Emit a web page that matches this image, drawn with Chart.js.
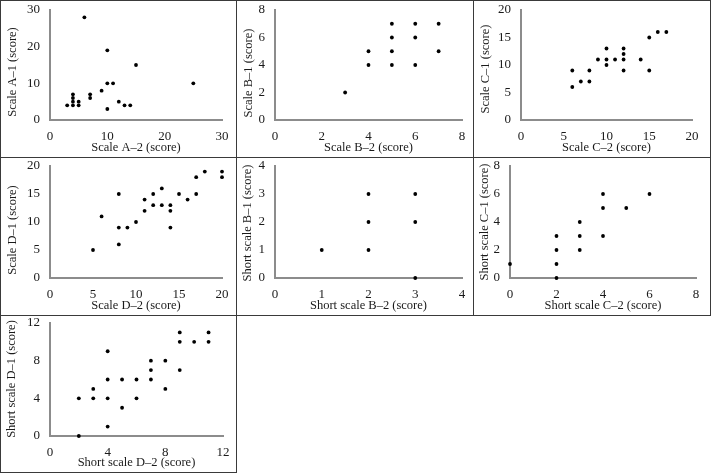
<!DOCTYPE html>
<html>
<head>
<meta charset="utf-8">
<script src="https://cdn.jsdelivr.net/npm/chart.js@4/dist/chart.umd.min.js"></script>
<style>
  html, body { margin: 0; padding: 0; background: #fff; }
  #wrap { position: relative; width: 711px; height: 474px; }
  .panel { position: absolute; box-sizing: border-box; border: 1px solid #3a3a3a; }
  .panel canvas { position: absolute; left: 0; top: 0; }
</style>
</head>
<body>
<div id="wrap"></div>
<script>
// ---- data ----
const aX = [6, 10, 15, 10, 11, 25, 9, 3, 4, 4, 4, 4, 5, 5, 7, 7, 12, 10, 13, 14];
const aY = [28, 19, 15, 10, 10, 10, 8, 4, 4, 5, 6, 7, 4, 5, 6, 7, 5, 3, 4, 4];

const bX = [3, 4, 4, 5, 5, 5, 5, 6, 6, 6, 7, 7];
const bY = [2, 5, 4, 7, 6, 5, 4, 7, 6, 4, 7, 5];

const cX = [6, 6, 7, 8, 8, 9, 10, 10, 10, 11, 12, 12, 12, 12, 14, 15, 15, 16, 17];
const cY = [9, 6, 7, 9, 7, 11, 13, 11, 10, 11, 13, 12, 11, 9, 11, 15, 9, 16, 16];

const dX = [5, 6, 8, 8, 8, 9, 10, 11, 11, 12, 12, 13, 13, 14, 14, 14, 15, 16, 17, 17, 18, 20, 20];
const dY = [5, 11, 15, 9, 6, 9, 10, 14, 12, 15, 13, 16, 13, 13, 12, 9, 15, 14, 18, 15, 19, 19, 18];

const eX = [1, 2, 2, 2, 3, 3, 3];
const eY = [1, 3, 2, 1, 3, 2, 0];

const fX = [0, 2, 2, 2, 2, 3, 3, 3, 4, 4, 4, 5, 6];
const fY = [1, 3, 2, 1, 0, 4, 3, 2, 6, 5, 3, 5, 6];

const gX = [2, 2, 3, 3, 4, 4, 4, 4, 5, 5, 6, 6, 7, 7, 7, 8, 8, 9, 9, 9, 10, 11, 11];
const gY = [4, 0, 5, 4, 9, 6, 4, 1, 6, 3, 6, 4, 8, 7, 6, 8, 5, 11, 10, 7, 10, 11, 10];

const xTitles = ["Scale A\u20132 (score)", "Scale B\u20132 (score)", "Scale C\u20132 (score)",
                 "Scale D\u20132 (score)", "Short scale B\u20132 (score)", "Short scale C\u20132 (score)",
                 "Short scale D\u20132 (score)"];
const yTitles = ["Scale A\u20131 (score)", "Scale B\u20131 (score)", "Scale C\u20131 (score)",
                 "Scale D\u20131 (score)", "Short scale B\u20131 (score)", "Short scale C\u20131 (score)",
                 "Short scale D\u20131 (score)"];
const axisMax = [30, 8, 20, 20, 4, 8, 12];
const axisStep = [10, 2, 5, 5, 1, 2, 4];

// ---- layout (canvas px) ----
const panels = [
  { x: aX, y: aY, left: 0,   top: 0,   w: 237, h: 158, yW: 49, padR: 14, padT: 9, xH: 37, tx: 12, ty: 71 },
  { x: bX, y: bY, left: 236, top: 0,   w: 238, h: 158, yW: 38, padR: 11, padT: 9, xH: 37, tx: 12, ty: 72 },
  { x: cX, y: cY, left: 473, top: 0,   w: 238, h: 158, yW: 47, padR: 18, padT: 9, xH: 37, tx: 12, ty: 68 },
  { x: dX, y: dY, left: 0,   top: 157, w: 237, h: 159, yW: 49, padR: 14, padT: 8, xH: 37, tx: 12, ty: 72 },
  { x: eX, y: eY, left: 236, top: 157, w: 238, h: 159, yW: 38, padR: 11, padT: 8, xH: 37, tx: 11, ty: 65 },
  { x: fX, y: fY, left: 473, top: 157, w: 238, h: 159, yW: 36, padR: 14, padT: 8, xH: 37, tx: 11, ty: 64 },
  { x: gX, y: gY, left: 0,   top: 315, w: 237, h: 158, yW: 49, padR: 13, padT: 7, xH: 36, tx: 11, ty: 63 }
];

const serif = "'Liberation Serif', 'Times New Roman', serif";
const textColor = "#1a1a1a";
const axisColor = "#8c8c8c";

// draws the rotated y-axis title at a set spot
const yTitlePlugin = {
    id: "yTitle",
    afterDraw: function (chart, args, opts) {
        const c = chart.ctx;
        c.save();
        c.translate(opts.x, opts.y);
        c.rotate(-Math.PI / 2);
        c.fillStyle = textColor;
        c.font = "12.5px " + serif;
        c.textAlign = "center";
        c.textBaseline = "middle";
        c.fillText(opts.text, 0, 0);
        c.restore();
    }
};

const wrap = document.getElementById("wrap");

panels.forEach(function (p, i) {
    const div = document.createElement("div");
    div.className = "panel";
    div.style.left = p.left + "px";
    div.style.top = p.top + "px";
    div.style.width = p.w + "px";
    div.style.height = p.h + "px";
    const cw = p.w - 2, ch = p.h - 2;
    div.innerHTML = '<div style="position:absolute;left:0;top:0;width:' + cw + 'px;height:' + ch + 'px"><canvas></canvas></div>';
    wrap.appendChild(div);
    const ctx = div.querySelector("canvas");

    const pts = p.x.map(function (v, k) { return { x: v, y: p.y[k] }; });

    new Chart(ctx, {
        type: "scatter",
        data: {
            datasets: [{
                data: pts,
                backgroundColor: "#000",
                borderColor: "#000",
                pointRadius: 1.9,
                borderWidth: 0,
                clip: false
            }]
        },
        plugins: [yTitlePlugin],
        options: {
            responsive: true,
            maintainAspectRatio: false,
            animation: false,
            devicePixelRatio: 1,
            layout: { padding: { left: 0, top: p.padT, right: p.padR, bottom: 0 } },
            plugins: {
                legend: { display: false },
                tooltip: { enabled: false },
                yTitle: { text: yTitles[i], x: p.tx, y: p.ty }
            },
            scales: {
                x: {
                    type: "linear",
                    min: 0,
                    max: axisMax[i],
                    grid: { display: false, drawTicks: false },
                    border: { display: true, color: axisColor, width: 2 },
                    ticks: { stepSize: axisStep[i], padding: 9, color: textColor, font: { family: serif, size: 13 }, maxRotation: 0 },
                    title: { display: true, text: xTitles[i], color: textColor, font: { family: serif, size: 12.5 }, padding: { top: 0, bottom: 2 } },
                    afterFit: function (s) {
                        s.height = p.xH;
                        s.paddingLeft = 0;
                        s.paddingRight = 0;
                    }
                },
                y: {
                    type: "linear",
                    min: 0,
                    max: axisMax[i],
                    grid: { display: false, drawTicks: false },
                    border: { display: true, color: axisColor, width: 2 },
                    ticks: { stepSize: axisStep[i], padding: 10, color: textColor, font: { family: serif, size: 13 } },
                    afterFit: function (s) {
                        s.width = p.yW;
                        s.paddingTop = 0;
                        s.paddingBottom = 0;
                    }
                }
            }
        }
    });
});
</script>
</body>
</html>
